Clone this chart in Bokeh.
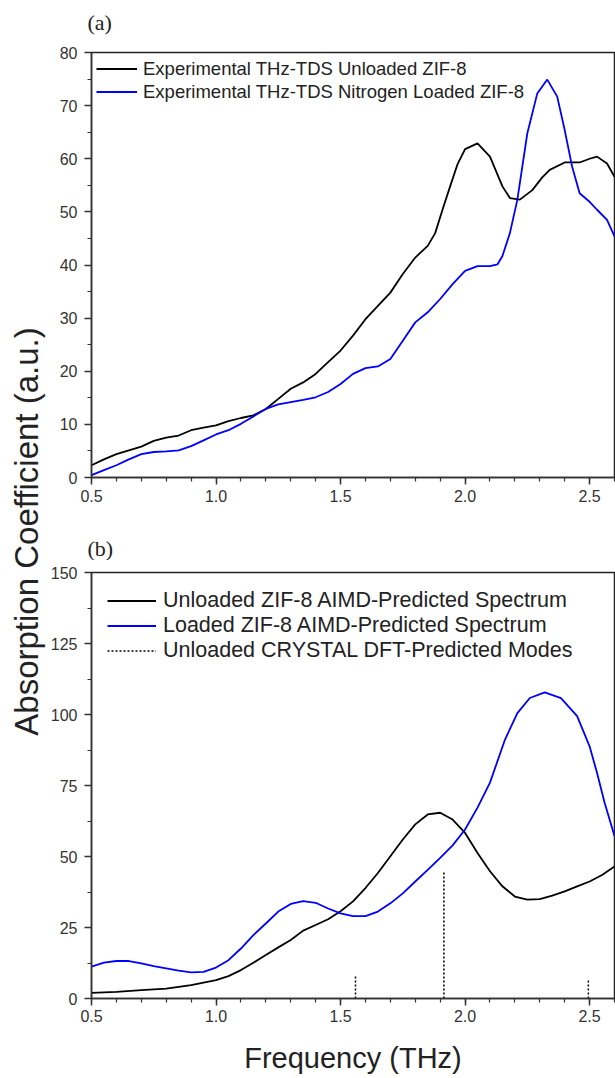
import math
from bokeh.plotting import figure
from bokeh.layouts import row, column
from bokeh.models import Label, Range1d, SingleIntervalTicker, NumeralTickFormatter
from bokeh.embed import file_html
from bokeh.resources import INLINE

# ---------------- data ----------------
# Panel (a): experimental THz-TDS
a_unl_x = [0.5, 0.55, 0.6, 0.65, 0.7, 0.75, 0.8, 0.85, 0.9, 0.95, 1.0, 1.05, 1.1, 1.15, 1.2, 1.25,
           1.3, 1.35, 1.4, 1.45, 1.5, 1.55, 1.6, 1.65, 1.7, 1.75, 1.8, 1.85, 1.88, 1.91, 1.94, 1.97,
           2.0, 2.05, 2.1, 2.15, 2.18, 2.22, 2.27, 2.31, 2.34, 2.4, 2.46, 2.5, 2.53, 2.57, 2.6]
a_unl_y = [2.3, 3.4, 4.4, 5.1, 5.8, 6.9, 7.5, 7.9, 8.9, 9.4, 9.8, 10.6, 11.2, 11.7, 12.9, 14.8,
           16.7, 17.9, 19.5, 21.7, 23.9, 26.7, 29.8, 32.3, 34.8, 38.3, 41.4, 43.6, 46.0, 50.5, 54.8, 59.0,
           61.8, 62.9, 60.4, 54.8, 52.6, 52.3, 54.1, 56.5, 57.9, 59.3, 59.3, 60.0, 60.4, 59.1, 56.6]

a_ld_x = [0.5, 0.55, 0.6, 0.65, 0.7, 0.75, 0.8, 0.85, 0.9, 0.95, 1.0, 1.05, 1.1, 1.15, 1.2, 1.25,
          1.3, 1.35, 1.4, 1.45, 1.5, 1.55, 1.6, 1.65, 1.7, 1.75, 1.8, 1.85, 1.9, 1.95, 2.0, 2.05,
          2.1, 2.13, 2.15, 2.18, 2.21, 2.25, 2.29, 2.33, 2.37, 2.4, 2.43, 2.46, 2.5, 2.53, 2.57, 2.6]
a_ld_y = [0.45, 1.4, 2.3, 3.4, 4.4, 4.8, 4.9, 5.1, 5.9, 7.0, 8.1, 8.9, 10.1, 11.5, 12.9, 13.75,
          14.2, 14.6, 15.1, 16.1, 17.6, 19.5, 20.6, 20.9, 22.3, 25.75, 29.2, 31.1, 33.6, 36.4, 38.9, 39.8,
          39.8, 40.1, 41.7, 46.0, 52.3, 64.8, 72.3, 74.9, 71.7, 65.4, 58.5, 53.5, 51.9, 50.4, 48.5, 45.4]

# Panel (b): AIMD-predicted spectra
b_unl_x = [0.5, 0.6, 0.7, 0.8, 0.9, 1.0, 1.05, 1.1, 1.15, 1.2, 1.25, 1.3, 1.35, 1.4, 1.45, 1.5,
           1.55, 1.6, 1.65, 1.7, 1.75, 1.8, 1.85, 1.9, 1.95, 2.0, 2.05, 2.1, 2.15, 2.2, 2.25, 2.3,
           2.35, 2.4, 2.45, 2.5, 2.55, 2.6]
b_unl_y = [2.0, 2.35, 2.95, 3.5, 4.7, 6.5, 7.9, 10.0, 12.6, 15.3, 18.0, 20.6, 23.9, 25.9, 27.9, 30.7,
           34.2, 38.9, 44.2, 50.1, 56.0, 61.3, 64.8, 65.4, 63.0, 58.3, 51.2, 44.8, 39.5, 35.9, 34.8, 35.0,
           36.2, 37.7, 39.5, 41.2, 43.5, 46.5]

b_ld_x = [0.5, 0.55, 0.6, 0.65, 0.7, 0.75, 0.8, 0.85, 0.9, 0.95, 1.0, 1.05, 1.1, 1.15, 1.2, 1.25,
          1.3, 1.35, 1.4, 1.45, 1.5, 1.55, 1.6, 1.65, 1.7, 1.75, 1.8, 1.85, 1.9, 1.95, 2.0, 2.05,
          2.1, 2.16, 2.21, 2.26, 2.32, 2.385, 2.45, 2.5, 2.53, 2.56, 2.6]
b_ld_y = [11.2, 12.6, 13.2, 13.2, 12.4, 11.4, 10.6, 9.8, 9.2, 9.4, 10.9, 13.5, 17.6, 22.3, 26.4, 30.6,
          33.3, 34.3, 33.7, 31.7, 30.0, 29.0, 29.0, 30.6, 33.5, 37.0, 41.2, 45.3, 49.5, 53.9, 59.5, 67.2,
          76.0, 91.1, 100.5, 105.8, 107.8, 105.8, 99.4, 88.8, 79.4, 69.0, 57.2]

# CRYSTAL DFT-predicted modes (position, intensity)
mode_x = [1.56, 1.915, 2.495]
mode_h = [8.3, 44.5, 6.3]
mode_base = [0, 0, 0]

labels_a = ["Experimental THz-TDS Unloaded ZIF-8", "Experimental THz-TDS Nitrogen Loaded ZIF-8"]
labels_b = ["Unloaded ZIF-8 AIMD-Predicted Spectrum", "Loaded ZIF-8 AIMD-Predicted Spectrum",
            "Unloaded CRYSTAL DFT-Predicted Modes"]
panel_tags = ["(a)", "(b)"]

SANS = "Liberation Sans"
SERIF = "Liberation Serif"
AXC = "#333333"
TXT = "#222222"
BLUE = "#0000ff"

W_TOTAL = 615
H_TOTAL = 1078
LAB_W = 47
PW = W_TOTAL - LAB_W
TAG_A_H = 36     # strip above panel (a)
PA_H = 474       # panel (a) figure
TAG_B_H = 50     # strip above panel (b)
PB_H = H_TOTAL - TAG_A_H - PA_H - TAG_B_H


def style(p, y_interval):
    p.toolbar_location = None
    p.grid.visible = False
    p.outline_line_color = "#222222"
    p.outline_line_width = 1.5
    p.background_fill_color = "white"
    p.border_fill_color = "white"
    p.xaxis.ticker = SingleIntervalTicker(interval=0.5, num_minor_ticks=5)
    p.yaxis.ticker = SingleIntervalTicker(interval=y_interval, num_minor_ticks=2)
    p.xaxis.formatter = NumeralTickFormatter(format="0.0")
    for ax in p.xaxis + p.yaxis:
        ax.axis_line_color = AXC
        ax.axis_line_width = 1.5
        ax.major_tick_line_color = AXC
        ax.minor_tick_line_color = AXC
        ax.major_tick_line_width = 1.5
        ax.minor_tick_line_width = 1.2
        ax.major_tick_out = 7
        ax.major_tick_in = 0
        ax.minor_tick_out = 4
        ax.minor_tick_in = 0
        ax.major_label_text_font = SANS
        ax.major_label_text_font_size = "16px"
        ax.major_label_text_color = AXC
    p.yaxis.major_label_standoff = 7
    p.xaxis.major_label_standoff = 5


def style_legend(lg, font_px, row_h, glyph_w, standoff, margin, padding):
    lg.location = "top_left"
    lg.margin = margin
    lg.padding = padding
    lg.spacing = 0
    lg.label_height = row_h
    lg.glyph_height = row_h
    lg.glyph_width = glyph_w
    lg.label_standoff = standoff
    lg.label_text_font = SANS
    lg.label_text_font_size = font_px
    lg.label_text_color = TXT
    lg.border_line_color = None
    lg.background_fill_alpha = 0


def blank(width, height):
    f = figure(width=width, height=height, x_range=Range1d(0, width), y_range=Range1d(height, 0),
               toolbar_location=None, output_backend="svg", min_border=0,
               x_axis_location=None, y_axis_location=None)
    f.grid.visible = False
    f.outline_line_color = None
    f.frame_align = False
    return f


def tag_strip(text, height, cy):
    f = blank(PW, height)
    f.add_layout(Label(x=40, y=cy, text=text, text_align="left", text_baseline="middle",
                       text_font=SERIF, text_font_size="22px", text_color=TXT))
    return f


# ---------------- left label strip ----------------
lab = blank(LAB_W, H_TOTAL)
lab.add_layout(Label(x=26, y=531, text="Absorption Coefficient (a.u.)",
                     angle=math.pi / 2, text_align="center", text_baseline="alphabetic",
                     text_font=SANS, text_font_size="33px", text_color=TXT))

# ---------------- panel (a) ----------------
tag_a = tag_strip(panel_tags[0], TAG_A_H, 22)
pa = figure(width=PW, height=PA_H, x_range=Range1d(0.5, 2.6), y_range=Range1d(0, 80),
            toolbar_location=None, output_backend="svg",
            min_border_left=38, min_border_right=1, min_border_top=52 - TAG_A_H,
            min_border_bottom=33)
style(pa, 10)
pa.line(a_unl_x, a_unl_y, line_color="black", line_width=1.8, legend_label=labels_a[0])
pa.line(a_ld_x, a_ld_y, line_color=BLUE, line_width=1.8, legend_label=labels_a[1])
style_legend(pa.legend[0], "18.5px", 23, 41, 6, 5, 3)

# ---------------- panel (b) ----------------
tag_b = tag_strip(panel_tags[1], TAG_B_H, 548 - TAG_A_H - PA_H)
pb = figure(width=PW, height=PB_H, x_range=Range1d(0.5, 2.6), y_range=Range1d(0, 150),
            toolbar_location=None, output_backend="svg",
            min_border_left=38, min_border_right=1,
            min_border_top=572 - TAG_A_H - PA_H - TAG_B_H, min_border_bottom=80)
style(pb, 25)
pb.xaxis.major_label_standoff = 4
pb.xaxis.axis_label = "Frequency (THz)"
pb.xaxis.axis_label_text_font = SANS
pb.xaxis.axis_label_text_font_size = "29px"
pb.xaxis.axis_label_text_font_style = "normal"
pb.xaxis.axis_label_text_color = TXT
pb.xaxis.axis_label_standoff = 17
pb.line(b_unl_x, b_unl_y, line_color="black", line_width=1.8, legend_label=labels_b[0])
pb.line(b_ld_x, b_ld_y, line_color=BLUE, line_width=1.8, legend_label=labels_b[1])
pb.segment(x0=mode_x, y0=mode_base, x1=mode_x, y1=mode_h, line_color="black",
           line_width=1.5, line_dash="2 2", legend_label=labels_b[2])
style_legend(pb.legend[0], "21.5px", 25, 49, 7, 16, 3)

layout = row(lab, column(tag_a, pa, tag_b, pb))
open("out.html", "w").write(file_html(layout, INLINE, "ZIF-8 THz spectra"))
